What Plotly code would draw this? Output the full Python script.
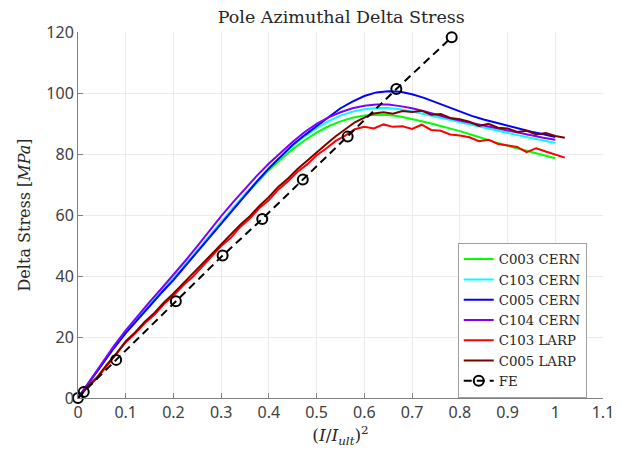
import plotly.graph_objects as go

# ---- data ----
x_cern = [i * 0.025 for i in range(41)]
c003_cern = [0, 5.6, 11.1, 16.5, 21.5, 26.1, 30.5, 34.8, 39.0, 43.6, 48.3, 53.0, 57.6, 62.1, 66.5, 70.7,
             74.7, 78.3, 81.6, 84.5, 87.0, 89.1, 90.7, 91.9, 92.6, 92.9, 92.8, 92.3, 91.5, 90.6, 89.6,
             88.6, 87.5, 86.3, 85.0, 83.8, 82.7, 81.7, 80.7, 79.6, 78.6]
c103_cern = [0, 5.7, 11.2, 16.6, 21.6, 26.2, 30.6, 34.9, 39.1, 43.7, 48.4, 53.1, 57.8, 62.4, 66.8, 71.2,
             75.4, 79.2, 82.7, 85.8, 88.5, 90.8, 92.6, 93.9, 94.7, 95.1, 95.1, 94.7, 94.0, 93.1, 92.2,
             91.3, 90.4, 89.5, 88.6, 87.7, 86.8, 86.0, 85.2, 84.4, 83.6]
c005_cern = [0, 5.5, 11.0, 16.3, 21.3, 25.8, 30.2, 34.5, 38.7, 43.3, 48.0, 52.7, 57.4, 62.0, 66.5, 71.0,
             75.3, 79.3, 83.0, 86.2, 89.2, 92.3, 95.0, 97.2, 99.0, 100.2, 100.6, 100.4, 99.6, 98.4, 96.9,
             95.3, 93.8, 92.5, 91.3, 90.3, 89.3, 88.2, 87.3, 86.5, 85.6]
c104_cern = [0, 5.8, 11.5, 17.0, 22.2, 27.0, 31.5, 35.9, 40.3, 45.0, 49.8, 54.8, 59.6, 64.2, 68.6, 72.9,
             76.9, 80.6, 84.0, 87.2, 89.9, 92.0, 93.7, 95.0, 95.8, 96.2, 96.2, 95.7, 95.0, 94.0, 92.9,
             91.9, 91.0, 90.2, 89.4, 88.6, 87.7, 86.8, 86.0, 85.3, 84.7]

x_larp = [i * 0.02 for i in range(52)]
c103_larp = [0, 3.5, 6.5, 10.5, 14.2, 18.3, 21.2, 24.6, 27.3, 30.8, 33.6, 36.9, 39.7, 43.1, 46.2, 49.8,
             52.5, 56.1, 58.8, 62.3, 64.9, 68.4, 71.1, 74.2, 76.6, 79.6, 81.8, 84.3, 86.0, 88.1, 88.9,
             88.4, 89.7, 88.9, 89.1, 88.2, 89.6, 87.9, 87.6, 86.4, 86.1, 85.5, 84.2, 84.7, 83.3, 82.9,
             82.3, 80.6, 81.9, 80.8, 79.8, 78.8]
c005_larp = [0, 3.7, 6.8, 10.9, 14.5, 18.6, 21.6, 25.0, 27.9, 31.3, 34.3, 37.5, 40.5, 43.8, 47.0, 50.4,
             53.3, 56.8, 59.6, 63.0, 65.9, 69.3, 72.0, 75.1, 77.8, 80.6, 83.2, 85.8, 88.0, 90.4, 91.9,
             93.3, 93.7, 93.2, 94.1, 93.8, 94.2, 92.9, 93.1, 91.8, 91.4, 90.6, 89.2, 89.9, 88.6, 88.4,
             87.2, 87.6, 86.4, 86.9, 85.9, 85.3]

fe_x = [0, 0.012, 0.08, 0.205, 0.303, 0.386, 0.471, 0.565, 0.667, 0.783]
fe_y = [0, 2.0, 12.5, 31.7, 46.7, 58.7, 71.6, 85.7, 101.3, 118.3]

x_ticks = [0, 0.1, 0.2, 0.3, 0.4, 0.5, 0.6, 0.7, 0.8, 0.9, 1.0, 1.1]
x_tick_labels = ["0", "0.1", "0.2", "0.3", "0.4", "0.5", "0.6", "0.7", "0.8", "0.9", "1", "1.1"]
y_ticks = [0, 20, 40, 60, 80, 100, 120]

series = [
    ("C003 CERN", x_cern, c003_cern, "#00ff00"),
    ("C103 CERN", x_cern, c103_cern, "#00ffff"),
    ("C005 CERN", x_cern, c005_cern, "#0000ff"),
    ("C104 CERN", x_cern, c104_cern, "#8000ff"),
    ("C103 LARP", x_larp, c103_larp, "#ff0000"),
    ("C005 LARP", x_larp, c005_larp, "#800000"),
]

fig = go.Figure()
for name, xs, ys, col in series:
    fig.add_trace(go.Scatter(x=xs, y=ys, mode="lines", name=name,
                             line=dict(color=col, width=2)))
fig.add_trace(go.Scatter(x=fe_x, y=fe_y, mode="lines+markers", name="FE",
                         line=dict(color="black", width=2, dash="8px,5px"),
                         marker=dict(symbol="circle-open", size=10, color="black",
                                     line=dict(width=2, color="black")),
                         cliponaxis=False))

serif = "DejaVu Serif"
fig.update_layout(
    width=632, height=449,
    margin=dict(l=78, r=29, t=32, b=49),
    paper_bgcolor="white", plot_bgcolor="white",
    title=dict(text="Pole Azimuthal Delta Stress", x=0.54, xanchor="center",
               y=0.962, yanchor="middle",
               font=dict(family=serif, size=17.5, color="#262626")),
    showlegend=True,
    legend=dict(x=0.7233, y=0.4236, xanchor="left", yanchor="top",
                bgcolor="white", bordercolor="#a0a0a0", borderwidth=1,
                font=dict(family=serif, size=13.3, color="#262626"),
                itemwidth=30, tracegroupgap=0),
    xaxis=dict(range=[0, 1.1], tickvals=x_ticks, ticktext=x_tick_labels,
               showgrid=True, gridcolor="#ebebeb", gridwidth=1,
               showline=True, linecolor="#808080", linewidth=1,
               ticks="inside", ticklen=5, tickcolor="#808080",
               zeroline=False, mirror=False,
               tickfont=dict(family="Noto Sans", size=16, color="#404040"),
               title=dict(text="(<i>I</i>/<i>I</i><sub><i>ult</i></sub>)<sup>2</sup>",
                          font=dict(family=serif, size=17, color="#262626"),
                          standoff=2)),
    yaxis=dict(range=[0, 120], tickvals=y_ticks,
               showgrid=True, gridcolor="#ebebeb", gridwidth=1,
               showline=True, linecolor="#808080", linewidth=1,
               ticks="inside", ticklen=5, tickcolor="#808080",
               zeroline=False, mirror=False,
               tickfont=dict(family="Noto Sans", size=16, color="#404040"),
               title=dict(text="Delta Stress [<i>MPa</i>]",
                          font=dict(family=serif, size=16, color="#262626"),
                          standoff=11)),
)

fig.write_html("out.html")
